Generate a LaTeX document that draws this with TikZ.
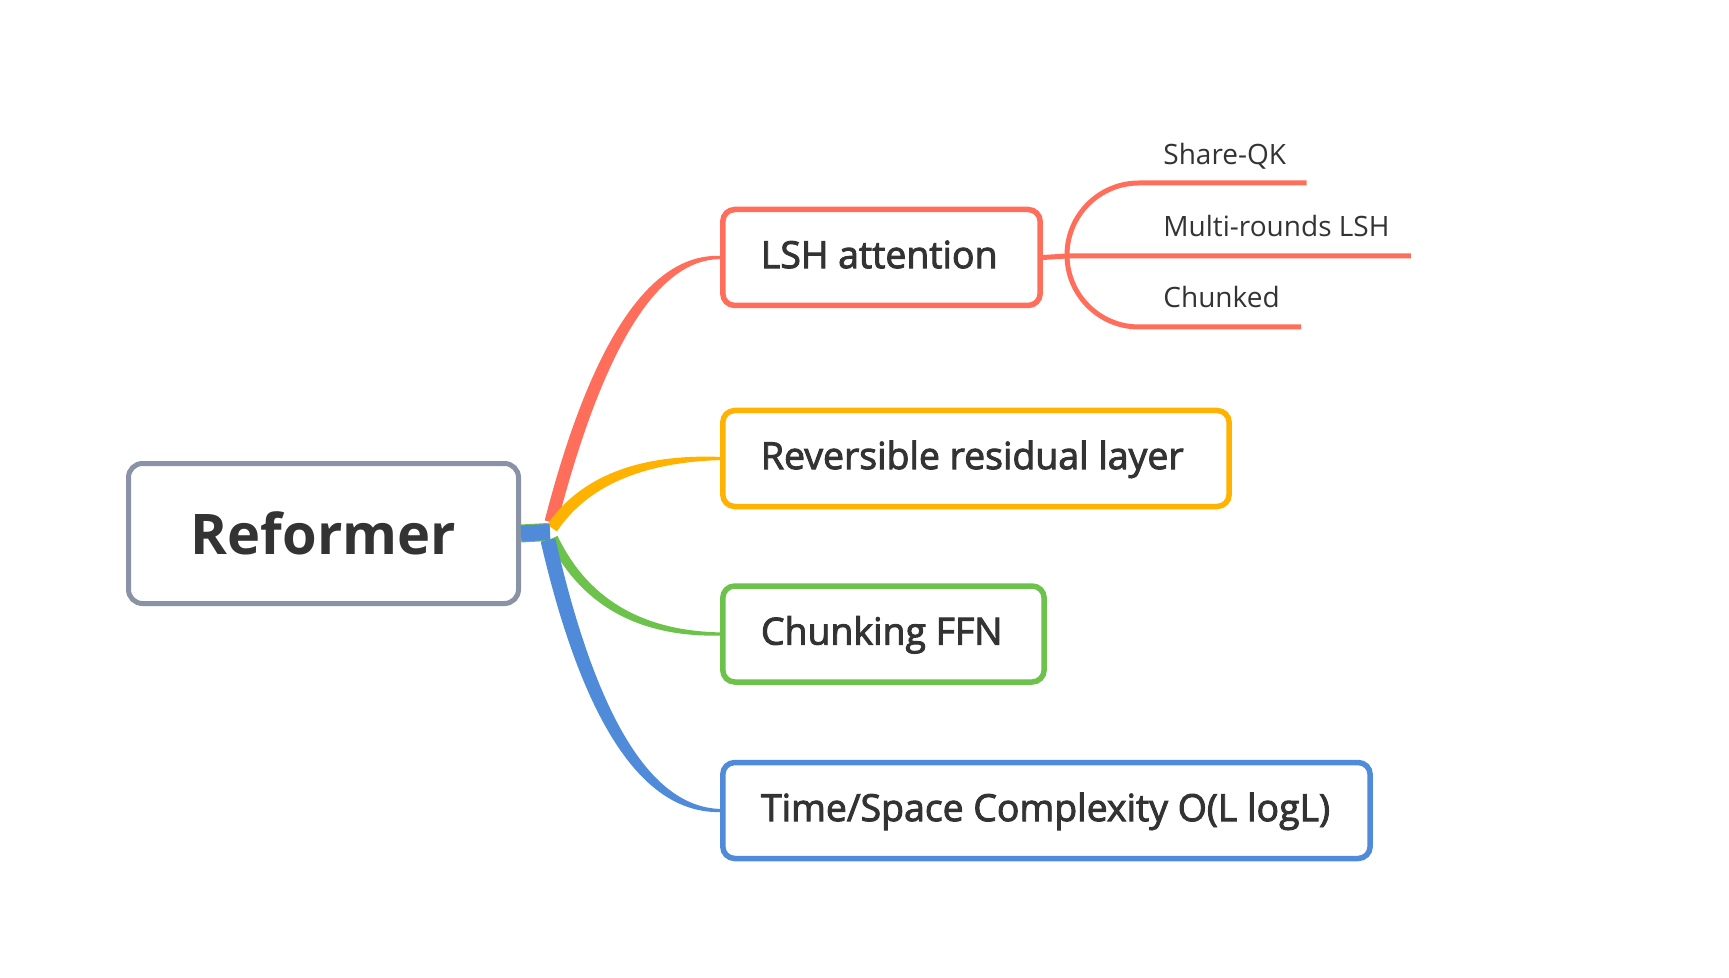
\documentclass[tikz,border=0pt]{standalone}
\usepackage{fontspec}
\setmainfont{Open Sans}
\newfontfamily\semib{Open Sans}[FakeBold=2.5]
\usetikzlibrary{calc}
\definecolor{cred}{HTML}{FF6E5A}
\definecolor{cyel}{HTML}{FFB300}
\definecolor{cgrn}{HTML}{6CC24A}
\definecolor{cblu}{HTML}{4F8BD9}
\definecolor{cgry}{HTML}{8A93A5}
\definecolor{ctxt}{HTML}{333333}
% #1 colour, #2 start, #3 control (quadratic), #4 end,
% #5 half-width offset vector at start, #6 offset vector of the control point
\newcommand\taperbranch[6]{%
  \path ($(#2)-(#5)$) coordinate (s1) ($(#2)+(#5)$) coordinate (s2)
        ($(#3)-(#6)$) coordinate (c1) ($(#3)+(#6)$) coordinate (c2)
        ($(#4)+(0,-1.6)$) coordinate (e1) ($(#4)+(0,1.6)$) coordinate (e2);
  \fill[#1] (s1) .. controls ($(s1)!2/3!(c1)$) and ($(e1)!2/3!(c1)$) .. (e1)
     -- (e2) .. controls ($(e2)!2/3!(c2)$) and ($(s2)!2/3!(c2)$) .. (s2) -- cycle;}
\begin{document}
\begin{tikzpicture}[x=0.5pt,y=-0.5pt,
  topic/.style={draw=#1, line width=2.75pt, rounded corners=6pt, fill=white,
    minimum height=48pt, inner xsep=19.1pt, inner ysep=0pt, anchor=west,
    text height=17pt, text depth=6.4pt,
    text=ctxt, font=\semib\fontsize{18.7pt}{23pt}\selectfont},
  rootbox/.style={draw=cgry, line width=2.5pt, rounded corners=7pt, fill=white,
    minimum width=195pt, minimum height=70pt, inner sep=0pt, text=ctxt,
    font=\bfseries\fontsize{28pt}{34pt}\selectfont},
  subtopic/.style={anchor=base west, inner sep=0pt, text=ctxt,
    font=\fontsize{14pt}{17pt}\selectfont},
  subline/.style={draw=cred, line width=2.5pt}]
\useasboundingbox (0,0) rectangle (1729,978);
\fill[white] (0,0) rectangle (1729,978);

\coordinate (J) at (548,532);
\coordinate (cR) at (620,256);
\coordinate (cY) at (600,458);
\coordinate (cG) at (600,634);
\coordinate (cB) at (610,810);
\coordinate (sR) at ($(J)+(3,-10)$);
\coordinate (sY) at ($(J)+(4,-4)$);
\coordinate (sG) at ($(J)+(5,6)$);
\coordinate (sB) at ($(J)+(0,8)$);

% nodes
\node[rootbox] (root) at (323.5,533.5) {Reformer};
\node[topic=cred] (lsh) at (720,257.5) {\makebox[120.5pt][l]{LSH attention}};
\node[topic=cyel] (rev) at (720,458.5) {\makebox[215pt][l]{Reversible residual layer}};
\node[topic=cgrn] (ffn) at (720,634) {\makebox[122.5pt][l]{Chunking FFN}};
\node[topic=cblu] (tsc) at (720,810.5) {\makebox[285.5pt][l]{Time/Space Complexity O(L logL)}};

% tapered connectors
\taperbranch{cred}{sR}{cR}{lsh.west}{6.3,1.6}{5.9,3.75}
\taperbranch{cyel}{sY}{cY}{rev.west}{4.9,3.4}{2.4,5.7}
\taperbranch{cgrn}{sG}{cG}{ffn.west}{-4.5,2.2}{-2.3,4.1}
\draw[cgrn, line width=9pt] (root.east) -- (J);
\draw[cblu, line width=8pt] (root.east) -- ($(J)+(2,0)$);
\taperbranch{cblu}{sB}{cB}{tsc.west}{-7.3,1.7}{-6.2,4.0}

% sub topics
\node[subtopic] (sq) at (1163,165) {Share-QK};
\node[subtopic] (ml) at (1163,237) {Multi-rounds LSH};
\node[subtopic] (ch) at (1163,308) {Chunked};
\coordinate (J2) at (1067,256);
\coordinate (sqend) at ($(sq.base east)+(20,18)$);
\coordinate (mlend) at ($(ml.base east)+(21,19)$);
\coordinate (chend) at ($(ch.base east)+(21,19)$);
\draw[subline] (lsh.east) -- (J2) -- (J2 -| mlend);
\draw[subline, rounded corners=36pt] (J2) |- (sqend);
\draw[subline, rounded corners=36pt] (J2) |- (chend);
\end{tikzpicture}
\end{document}
